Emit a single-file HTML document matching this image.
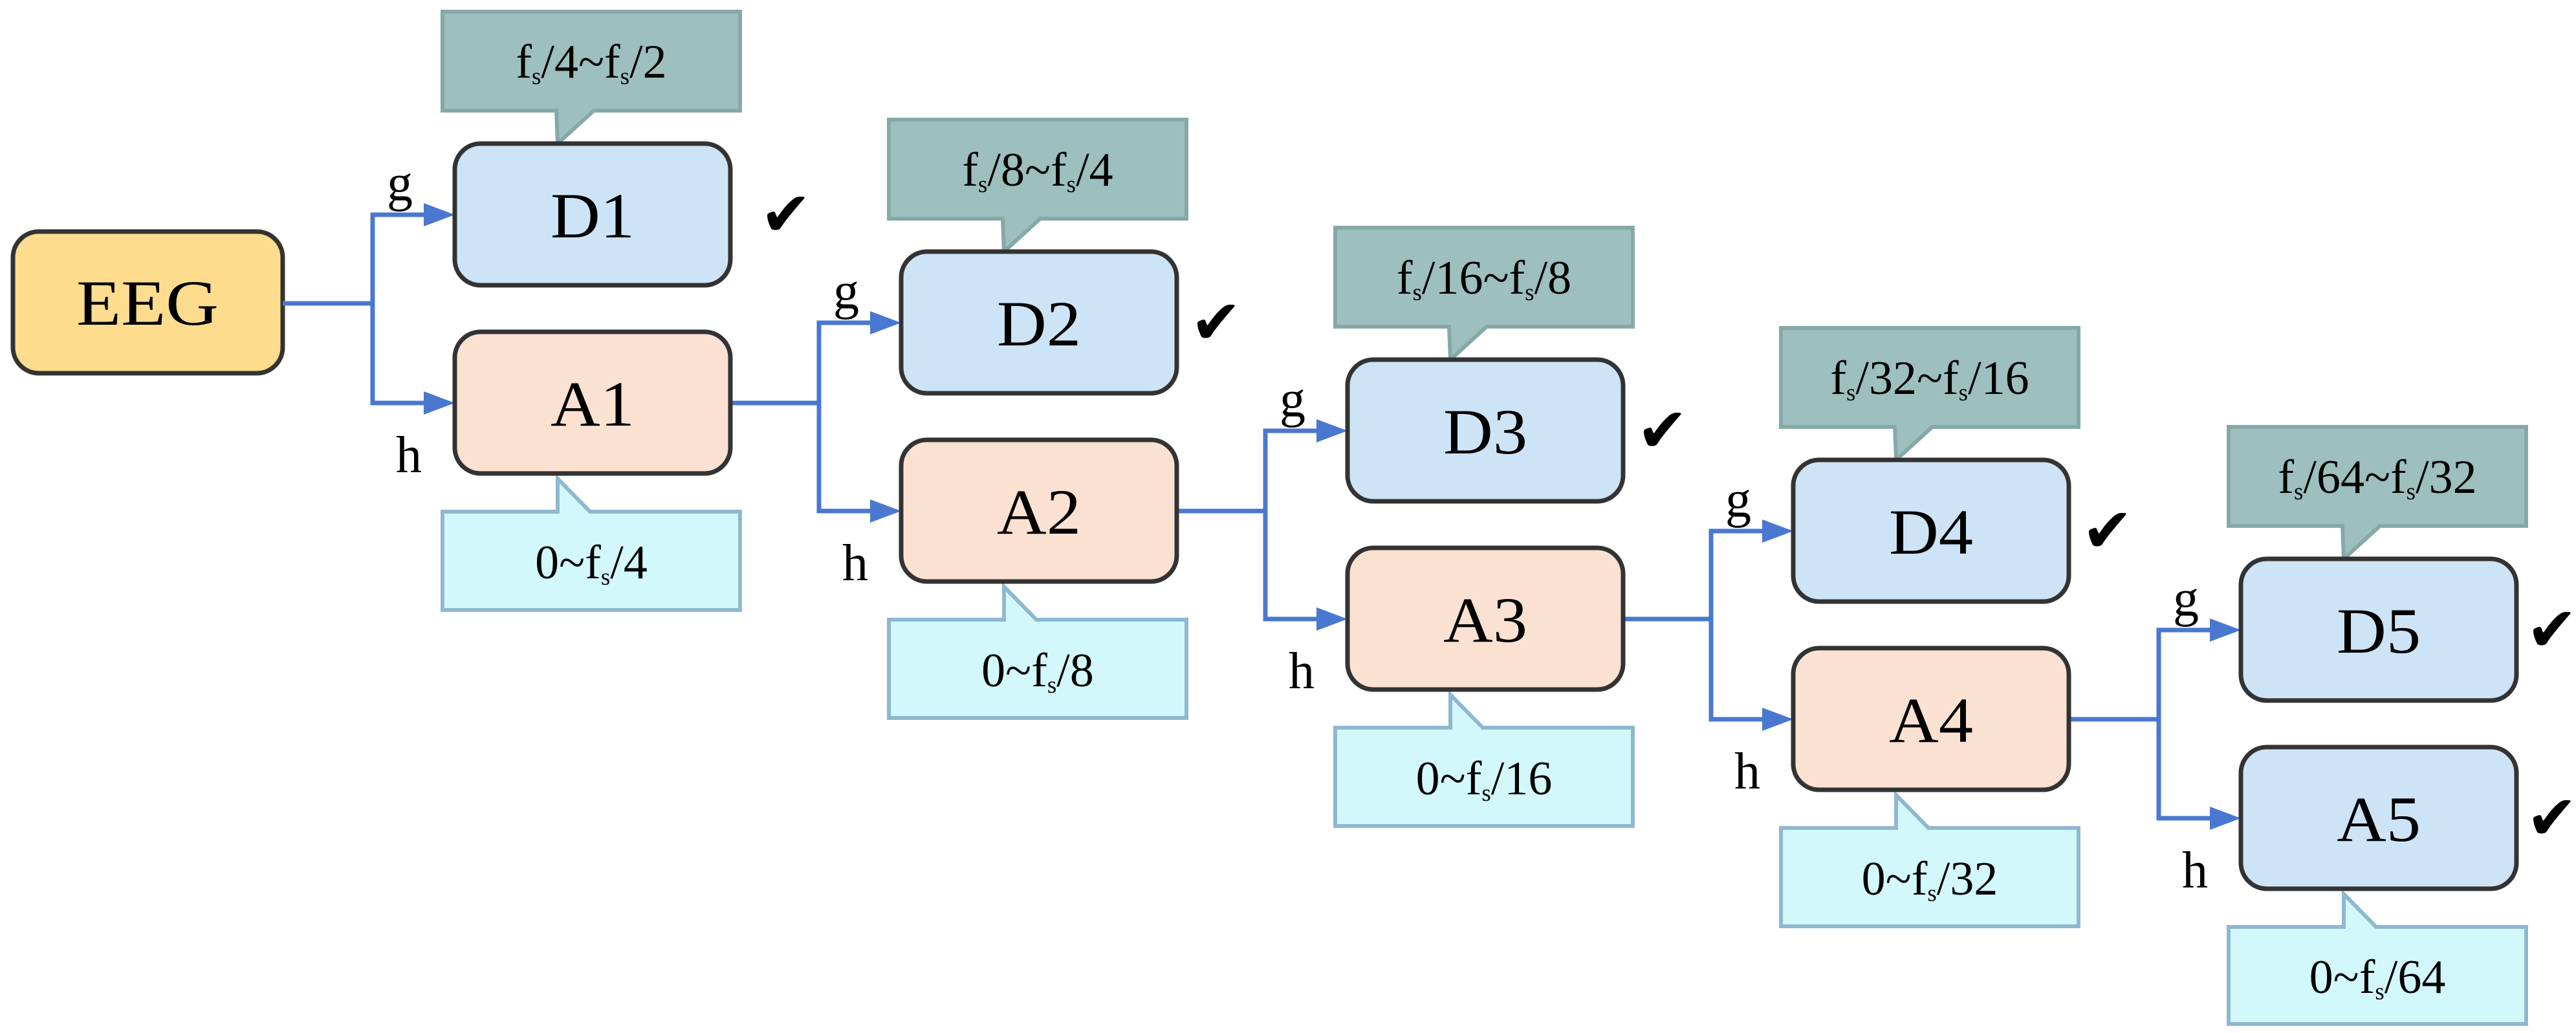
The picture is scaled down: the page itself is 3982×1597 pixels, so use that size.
<!DOCTYPE html>
<html><head><meta charset="utf-8"><style>html,body{margin:0;padding:0;background:#fff}svg{display:block}</style></head>
<body>
<svg width="3982" height="1597" viewBox="0 0 3982 1597" xmlns="http://www.w3.org/2000/svg" font-family="Liberation Serif, serif">
<rect x="20" y="358" width="417" height="219" rx="40" fill="#fddc8e" stroke="#333" stroke-width="7"/>
<text x="228" y="502" font-size="100" text-anchor="middle" textLength="220" lengthAdjust="spacingAndGlyphs">EEG</text>

<g stroke="#4a78d0" stroke-width="7" fill="none">
<polyline points="437,469 576,469"/><polyline points="658,332 576,332 576,623 658,623"/>
<polyline points="1129,623 1266,623"/><polyline points="1348,499 1266,499 1266,790 1348,790"/>
<polyline points="1819,790 1956,790"/><polyline points="2038,666 1956,666 1956,957 2038,957"/>
<polyline points="2509,957 2645,957"/><polyline points="2727,821 2645,821 2645,1112 2727,1112"/>
<polyline points="3198,1112 3337,1112"/><polyline points="3419,974 3337,974 3337,1265 3419,1265"/>
</g>
<g fill="#4a78d0">
<polygon points="655,314 703,332 655,350"/><polygon points="655,605 703,623 655,641"/>
<polygon points="1345,481 1393,499 1345,517"/><polygon points="1345,772 1393,790 1345,808"/>
<polygon points="2035,648 2083,666 2035,684"/><polygon points="2035,939 2083,957 2035,975"/>
<polygon points="2724,803 2772,821 2724,839"/><polygon points="2724,1094 2772,1112 2724,1130"/>
<polygon points="3416,956 3464,974 3416,992"/><polygon points="3416,1247 3464,1265 3416,1283"/>
</g>

<g font-size="80">
<text x="598" y="310">g</text><text x="612" y="730">h</text>
<text x="1288" y="477">g</text><text x="1302" y="897">h</text>
<text x="1978" y="644">g</text><text x="1992" y="1064">h</text>
<text x="2667" y="799">g</text><text x="2681" y="1219">h</text>
<text x="3359" y="952">g</text><text x="3373" y="1372">h</text>
</g>

<g fill="#9dbfbd" stroke="#86a8a8" stroke-width="6">
<path d="M684,18 H1144 V171 H918 L862,222 L860,171 H684 Z"/>
<path d="M1374,185 H1834 V338 H1608 L1552,389 L1550,338 H1374 Z"/>
<path d="M2064,352 H2524 V505 H2298 L2242,556 L2240,505 H2064 Z"/>
<path d="M2753,507 H3213 V660 H2987 L2931,711 L2929,660 H2753 Z"/>
<path d="M3445,660 H3905 V813 H3679 L3623,864 L3621,813 H3445 Z"/>
</g>
<g fill="#d2f8fc" stroke="#8fb8d0" stroke-width="6">
<path d="M684,791 H862 V740 L912,791 H1144 V943 H684 Z"/>
<path d="M1374,958 H1552 V907 L1602,958 H1834 V1110 H1374 Z"/>
<path d="M2064,1125 H2242 V1074 L2292,1125 H2524 V1277 H2064 Z"/>
<path d="M2753,1280 H2931 V1229 L2981,1280 H3213 V1432 H2753 Z"/>
<path d="M3445,1433 H3623 V1382 L3673,1433 H3905 V1583 H3445 Z"/>
</g>

<g stroke="#333" stroke-width="7">
<rect x="703" y="222" width="426" height="219" rx="40" fill="#cde4f6"/>
<rect x="703" y="513" width="426" height="219" rx="40" fill="#fbe1d2"/>
<rect x="1393" y="389" width="426" height="219" rx="40" fill="#cde4f6"/>
<rect x="1393" y="680" width="426" height="219" rx="40" fill="#fbe1d2"/>
<rect x="2083" y="556" width="426" height="219" rx="40" fill="#cde4f6"/>
<rect x="2083" y="847" width="426" height="219" rx="40" fill="#fbe1d2"/>
<rect x="2772" y="711" width="426" height="219" rx="40" fill="#cde4f6"/>
<rect x="2772" y="1002" width="426" height="219" rx="40" fill="#fbe1d2"/>
<rect x="3464" y="864" width="426" height="219" rx="40" fill="#cde4f6"/>
<rect x="3464" y="1155" width="426" height="219" rx="40" fill="#cde4f6"/>
</g>
<g font-size="100" text-anchor="middle">
<text x="916" y="367" textLength="130" lengthAdjust="spacingAndGlyphs">D1</text><text x="916" y="658" textLength="130" lengthAdjust="spacingAndGlyphs">A1</text>
<text x="1606" y="534" textLength="130" lengthAdjust="spacingAndGlyphs">D2</text><text x="1606" y="825" textLength="130" lengthAdjust="spacingAndGlyphs">A2</text>
<text x="2296" y="701" textLength="130" lengthAdjust="spacingAndGlyphs">D3</text><text x="2296" y="992" textLength="130" lengthAdjust="spacingAndGlyphs">A3</text>
<text x="2985" y="856" textLength="130" lengthAdjust="spacingAndGlyphs">D4</text><text x="2985" y="1147" textLength="130" lengthAdjust="spacingAndGlyphs">A4</text>
<text x="3677" y="1009" textLength="130" lengthAdjust="spacingAndGlyphs">D5</text><text x="3677" y="1300" textLength="130" lengthAdjust="spacingAndGlyphs">A5</text>
</g>
<g font-size="95" font-family="DejaVu Sans, sans-serif">
<text x="1175" y="364">✔</text>
<text x="1840" y="531">✔</text>
<text x="2530" y="698">✔</text>
<text x="3218" y="853">✔</text>
<text x="3905" y="1006">✔</text>
<text x="3905" y="1297">✔</text>
</g>

<g font-size="74" text-anchor="middle">
<text x="914" y="120">f<tspan font-size="37" dy="10">s</tspan><tspan dy="-10">/4~f</tspan><tspan font-size="37" dy="10">s</tspan><tspan dy="-10">/2</tspan></text>
<text x="1604" y="287">f<tspan font-size="37" dy="10">s</tspan><tspan dy="-10">/8~f</tspan><tspan font-size="37" dy="10">s</tspan><tspan dy="-10">/4</tspan></text>
<text x="2294" y="454">f<tspan font-size="37" dy="10">s</tspan><tspan dy="-10">/16~f</tspan><tspan font-size="37" dy="10">s</tspan><tspan dy="-10">/8</tspan></text>
<text x="2983" y="609">f<tspan font-size="37" dy="10">s</tspan><tspan dy="-10">/32~f</tspan><tspan font-size="37" dy="10">s</tspan><tspan dy="-10">/16</tspan></text>
<text x="3675" y="762">f<tspan font-size="37" dy="10">s</tspan><tspan dy="-10">/64~f</tspan><tspan font-size="37" dy="10">s</tspan><tspan dy="-10">/32</tspan></text>

<text x="914" y="894">0~f<tspan font-size="37" dy="10">s</tspan><tspan dy="-10">/4</tspan></text>
<text x="1604" y="1061">0~f<tspan font-size="37" dy="10">s</tspan><tspan dy="-10">/8</tspan></text>
<text x="2294" y="1228">0~f<tspan font-size="37" dy="10">s</tspan><tspan dy="-10">/16</tspan></text>
<text x="2983" y="1383">0~f<tspan font-size="37" dy="10">s</tspan><tspan dy="-10">/32</tspan></text>
<text x="3675" y="1535">0~f<tspan font-size="37" dy="10">s</tspan><tspan dy="-10">/64</tspan></text>
</g>
</svg>
</body></html>
